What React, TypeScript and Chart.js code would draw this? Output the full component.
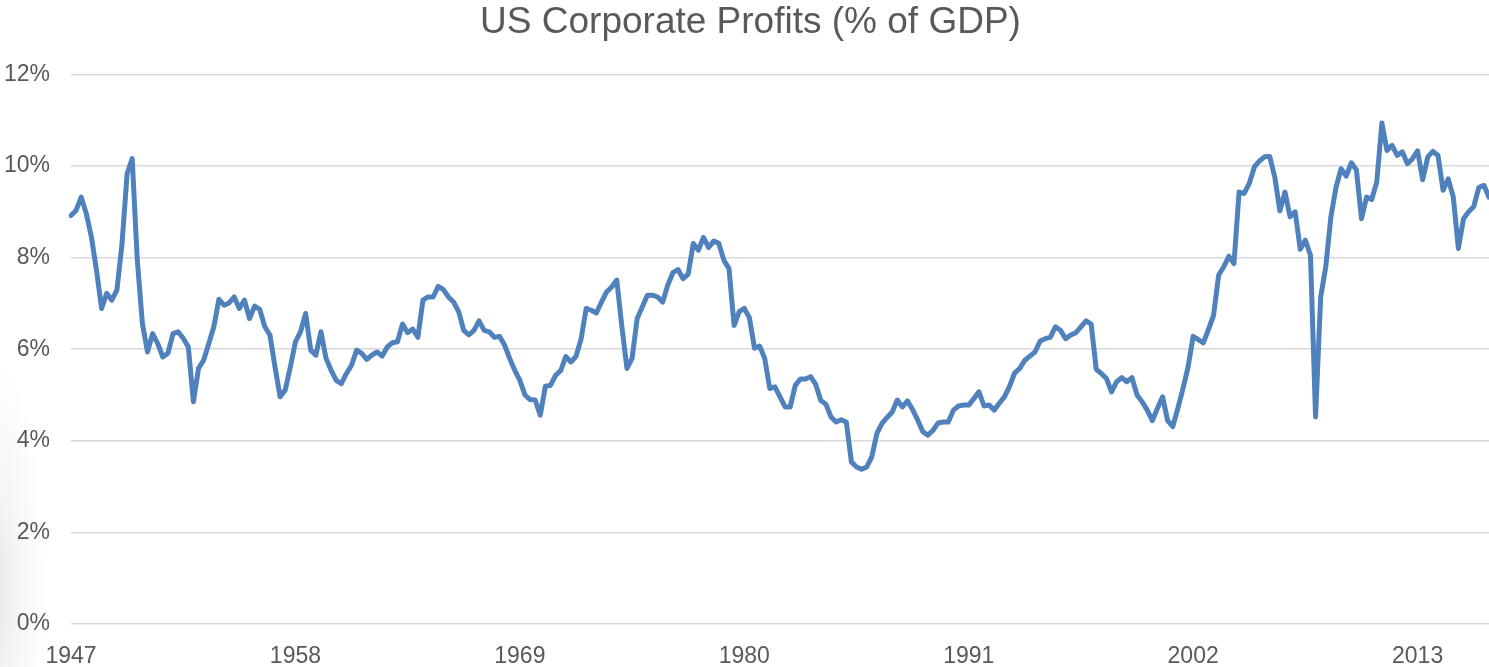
import React, { useEffect, useRef } from 'react';
import { Chart, registerables } from 'chart.js';

Chart.register(...registerables);

// Quarterly US corporate profits as % of GDP, starting 1947 Q1
const START_YEAR = 1947;

const profitPct = [
  8.92, 9.03, 9.32, 8.96, 8.45, 7.72, 6.89, 7.22, 7.07, 7.29,
  8.30, 9.83, 10.16, 7.94, 6.56, 5.94, 6.34, 6.12, 5.83, 5.91,
  6.34, 6.38, 6.24, 6.05, 4.85, 5.58, 5.76, 6.12, 6.49, 7.09,
  6.96, 7.01, 7.14, 6.89, 7.07, 6.67, 6.94, 6.87, 6.49, 6.31,
  5.61, 4.96, 5.11, 5.61, 6.16, 6.38, 6.78, 5.98, 5.87, 6.38,
  5.80, 5.54, 5.32, 5.25, 5.47, 5.65, 5.98, 5.91, 5.78, 5.87,
  5.94, 5.85, 6.05, 6.14, 6.16, 6.55, 6.36, 6.44, 6.26, 7.07,
  7.14, 7.14, 7.37, 7.30, 7.14, 7.03, 6.82, 6.41, 6.31, 6.41,
  6.62, 6.41, 6.38, 6.26, 6.28, 6.09, 5.80, 5.54, 5.32, 5.00,
  4.90, 4.89, 4.56, 5.19, 5.21, 5.43, 5.53, 5.84, 5.72, 5.84,
  6.22, 6.89, 6.85, 6.79, 7.03, 7.25, 7.36, 7.51, 6.49, 5.58,
  5.80, 6.67, 6.92, 7.18, 7.18, 7.14, 7.03, 7.40, 7.67, 7.74,
  7.54, 7.64, 8.31, 8.16, 8.44, 8.22, 8.36, 8.31, 7.94, 7.76,
  6.52, 6.82, 6.89, 6.69, 6.02, 6.07, 5.80, 5.14, 5.18, 4.96,
  4.74, 4.74, 5.21, 5.35, 5.35, 5.40, 5.23, 4.88, 4.80, 4.52,
  4.41, 4.46, 4.41, 3.54, 3.43, 3.38, 3.43, 3.65, 4.16, 4.38,
  4.51, 4.63, 4.89, 4.74, 4.87, 4.68, 4.45, 4.20, 4.12, 4.23,
  4.39, 4.41, 4.41, 4.67, 4.76, 4.78, 4.78, 4.92, 5.07, 4.76,
  4.78, 4.67, 4.82, 4.96, 5.19, 5.48, 5.58, 5.76, 5.85, 5.94,
  6.18, 6.23, 6.26, 6.49, 6.41, 6.23, 6.31, 6.36, 6.49, 6.62,
  6.55, 5.56, 5.47, 5.36, 5.07, 5.29, 5.38, 5.29, 5.38, 5.00,
  4.85, 4.67, 4.44, 4.71, 4.96, 4.44, 4.31, 4.71, 5.14, 5.61,
  6.28, 6.21, 6.14, 6.43, 6.74, 7.62, 7.80, 8.03, 7.87, 9.43,
  9.40, 9.62, 9.98, 10.11, 10.20, 10.21, 9.76, 9.02, 9.43, 8.89,
  9.00, 8.18, 8.38, 8.05, 4.52, 7.14, 7.80, 8.89, 9.53, 9.94,
  9.78, 10.07, 9.92, 8.85, 9.32, 9.27, 9.65, 10.94, 10.34, 10.45,
  10.23, 10.31, 10.05, 10.16, 10.33, 9.70, 10.20, 10.32, 10.23, 9.47,
  9.72, 9.32, 8.20, 8.85, 9.00, 9.11, 9.53, 9.58, 9.32,
];

const tickYears = ['1947', '1958', '1969', '1980', '1991', '2002', '2013'];

const categories = profitPct.map(
  (_, i) => `${START_YEAR + Math.floor(i / 4)} Q${(i % 4) + 1}`
);

const TITLE = 'US Corporate Profits (% of GDP)';
const FONT = 'Liberation Sans, Arial, Helvetica, sans-serif';
const TEXT_COLOR = '#595959';

// shift the title's box a little to the right (title is centred at ~750px)
const titleShift = {
  id: 'titleShift',
  afterLayout(chart: any) {
    if (chart.titleBlock) {
      chart.titleBlock.left = 12;
    }
  },
};

export default function App() {
  const canvasRef = useRef<HTMLCanvasElement | null>(null);

  useEffect(() => {
    if (!canvasRef.current) return;
    const chart = new Chart(canvasRef.current, {
      type: 'line',
      data: {
        labels: categories,
        datasets: [
          {
            label: TITLE,
            data: profitPct,
            borderColor: '#4F81BD',
            backgroundColor: '#4F81BD',
            borderWidth: 5,
            pointRadius: 0,
            pointHoverRadius: 0,
            tension: 0,
            fill: false,
            borderJoinStyle: 'round',
            borderCapStyle: 'round',
          },
        ],
      },
      options: {
        animation: false,
        responsive: true,
        maintainAspectRatio: false,
        layout: { padding: 0 },
        plugins: {
          legend: { display: false },
          tooltip: { enabled: false },
          title: {
            display: true,
            text: TITLE,
            color: TEXT_COLOR,
            font: { family: FONT, size: 37, weight: 'normal' },
            padding: { top: 1, bottom: 29 },
          },
        },
        scales: {
          x: {
            type: 'category',
            offset: false,
            grid: { display: false },
            border: { display: false },
            ticks: {
              autoSkip: false,
              maxRotation: 0,
              minRotation: 0,
              padding: 11,
              color: TEXT_COLOR,
              font: { family: FONT, size: 23 },
              callback: (_v: any, i: number) => {
                const [yr, q] = categories[i].split(' ');
                return q === 'Q1' && tickYears.includes(yr) ? yr : null;
              },
            },
            afterFit: (s: any) => {
              s.height = 43;
            },
          },
          y: {
            min: 0,
            max: 12,
            grid: { color: '#D9D9D9', lineWidth: 1.5, drawTicks: false },
            border: { display: false },
            ticks: {
              stepSize: 2,
              padding: 21,
              color: TEXT_COLOR,
              font: { family: FONT, size: 23 },
              callback: (v: any) => `${v}%`,
            },
            afterFit: (s: any) => {
              s.width = 71;
            },
          },
        },
      },
      plugins: [titleShift],
    });
    return () => chart.destroy();
  }, []);

  return (
    <div
      style={{
        position: 'fixed',
        left: 0,
        top: 0,
        width: 1489,
        height: 667,
        background:
          'radial-gradient(ellipse 45px 230px at 0px 590px, #e9e9e9 0%, #f6f6f6 45%, #ffffff 100%)',
      }}
    >
      <canvas ref={canvasRef} />
    </div>
  );
}
